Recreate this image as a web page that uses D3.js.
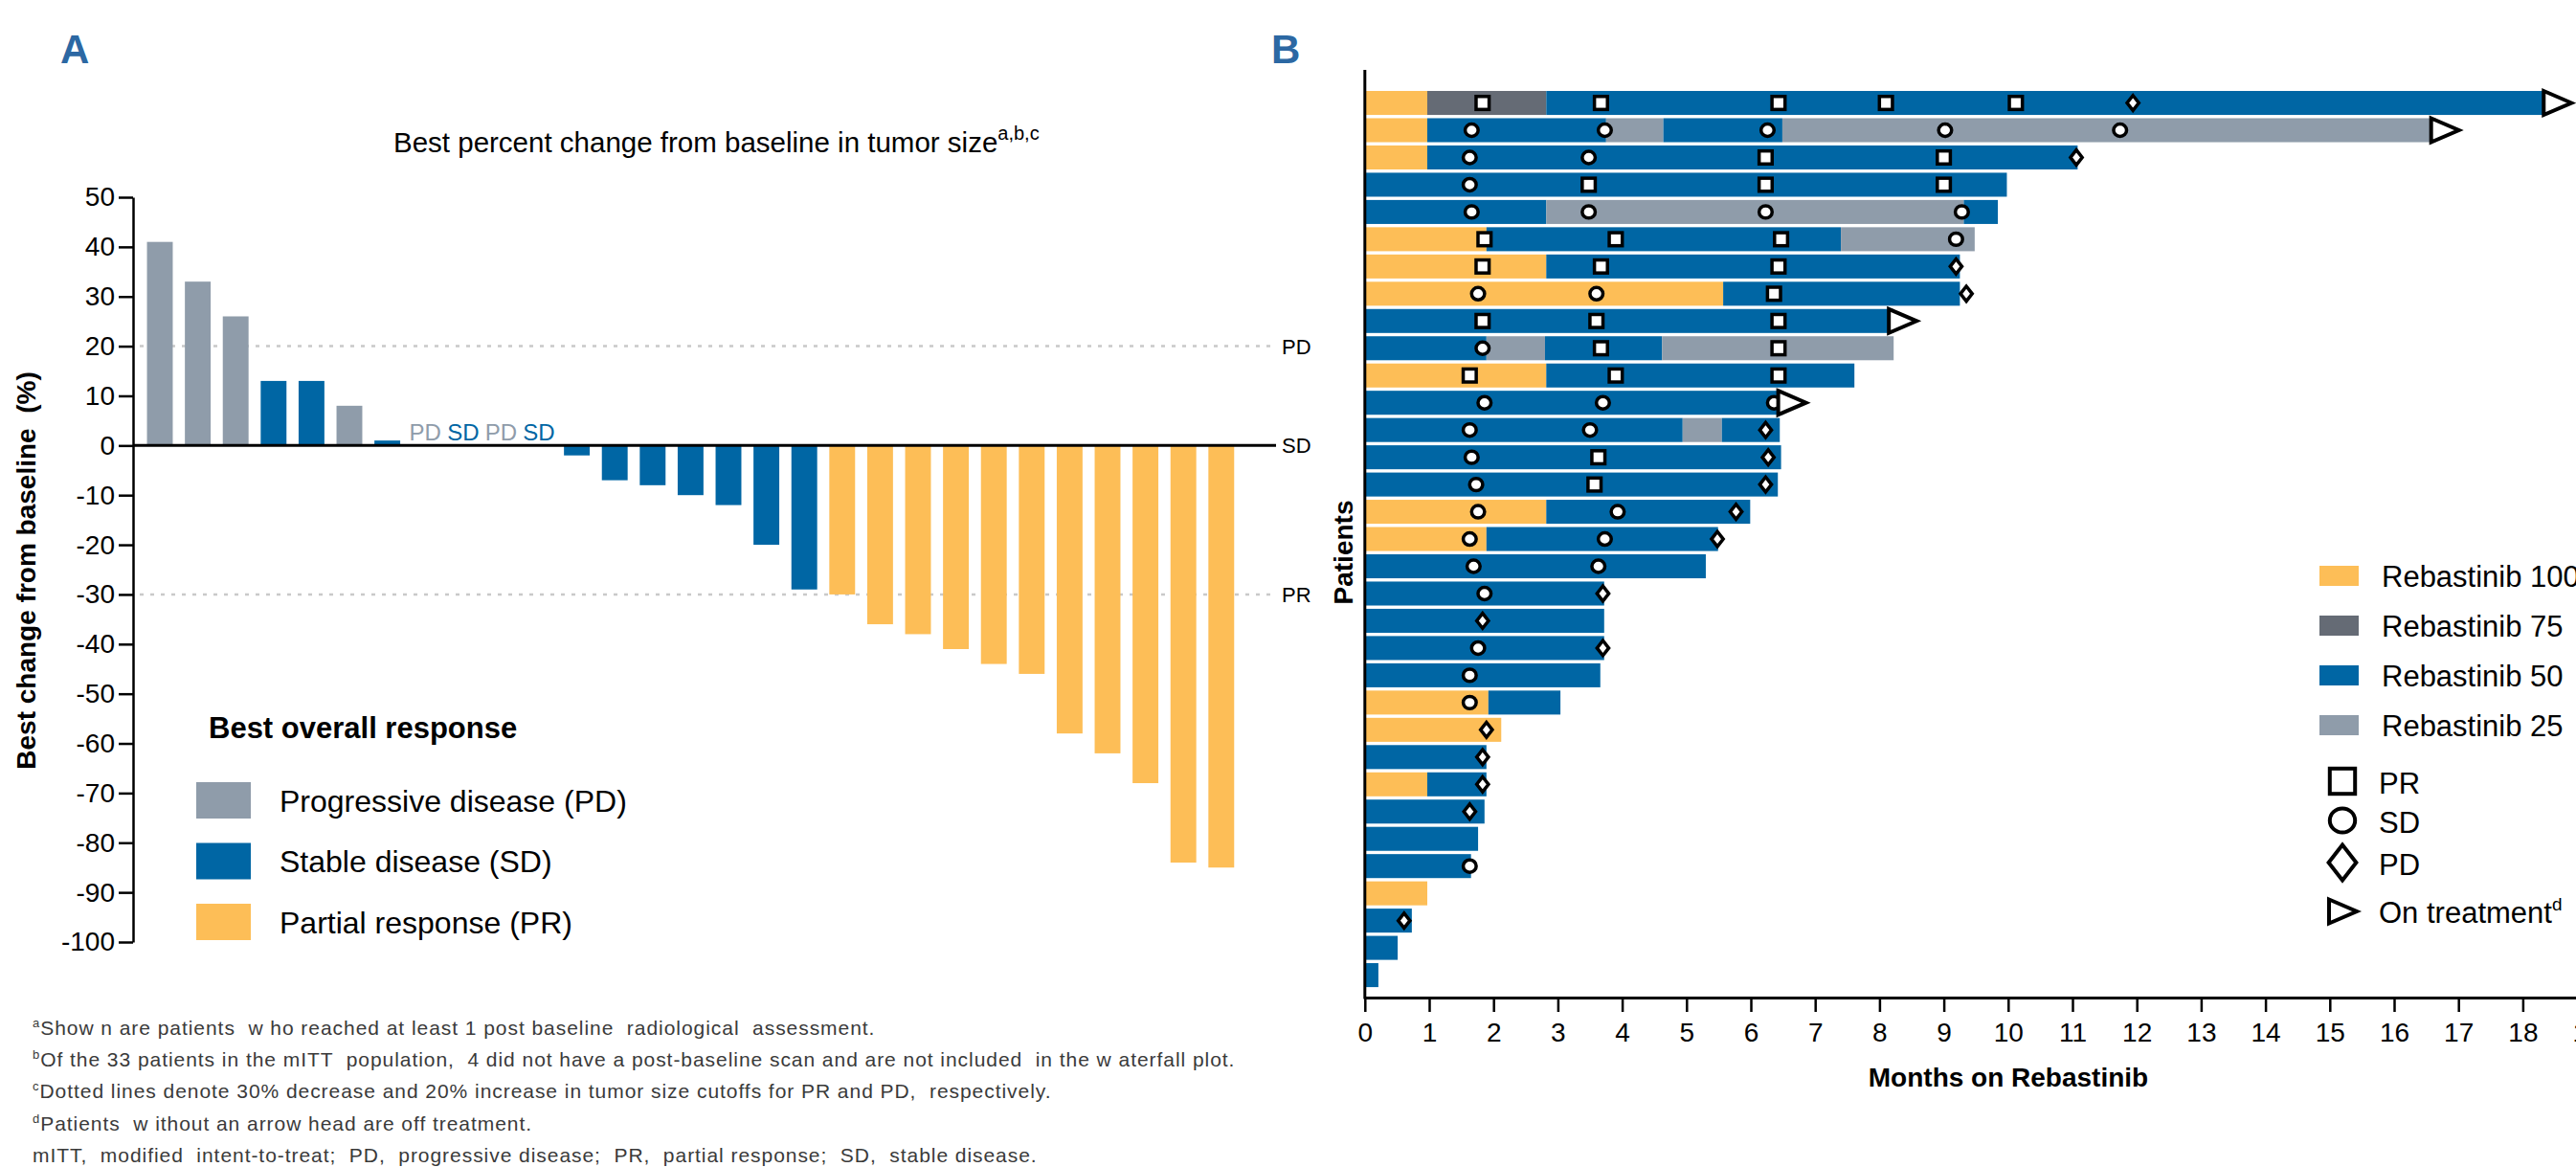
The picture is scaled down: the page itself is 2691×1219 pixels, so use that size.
<!DOCTYPE html>
<html><head><meta charset="utf-8">
<script src="https://cdn.jsdelivr.net/npm/d3@7"></script>
<style>
body{margin:0;background:#fff}
svg{display:block}
text{font-family:"Liberation Sans",Arial,Helvetica,sans-serif}
</style>
</head><body>
<svg id="c" width="2691" height="1219"></svg>
<script>
// ---------------- DATA ----------------
// Panel A: waterfall (29 patients)
const waterfallChange = [41,33,26,13,13,8,1,0,0,0,0,-2,-7,-8,-10,-12,-20,-29,-30,-36,-38,-41,-44,-46,-58,-62,-68,-84,-85];
const waterfallResponse = ["PD","PD","PD","SD","SD","PD","SD","PD","SD","PD","SD","SD","SD","SD","SD","SD","SD","SD","PR","PR","PR","PR","PR","PR","PR","PR","PR","PR","PR"];
const yTicksA = [50,40,30,20,10,0,-10,-20,-30,-40,-50,-60,-70,-80,-90,-100];
const cutoffValues = [20,0,-30];
const cutoffLabels = ["PD","SD","PR"];
const responseCategories = ["PD","SD","PR"];
const responseLegendLabels = ["Progressive disease (PD)","Stable disease (SD)","Partial response (PR)"];

// Panel B: swimmer plot (33 patients); segments [start month, end month, dose mg]
const swimSegments = [
  [[0,0.97,100],[0.97,2.82,75],[2.82,18.40,50]],
  [[0,0.97,100],[0.97,3.75,50],[3.75,4.64,25],[4.64,6.49,50],[6.49,16.65,25]],
  [[0,0.97,100],[0.97,11.08,50]],
  [[0,9.98,50]],
  [[0,2.82,50],[2.82,9.31,25],[9.31,9.84,50]],
  [[0,1.89,100],[1.89,7.40,50],[7.40,9.48,25]],
  [[0,2.82,100],[2.82,9.25,50]],
  [[0,5.57,100],[5.57,9.25,50]],
  [[0,8.22,50]],
  [[0,1.89,50],[1.89,2.80,25],[2.80,4.62,50],[4.62,8.22,25]],
  [[0,2.82,100],[2.82,7.61,50]],
  [[0,6.50,50]],
  [[0,4.94,50],[4.94,5.55,25],[5.55,6.45,50]],
  [[0,6.47,50]],
  [[0,6.42,50]],
  [[0,2.82,100],[2.82,5.99,50]],
  [[0,1.89,100],[1.89,5.49,50]],
  [[0,5.30,50]],
  [[0,3.72,50]],
  [[0,3.72,50]],
  [[0,3.72,50]],
  [[0,3.66,50]],
  [[0,1.92,100],[1.92,3.04,50]],
  [[0,2.12,100]],
  [[0,1.89,50]],
  [[0,0.97,100],[0.97,1.89,50]],
  [[0,1.86,50]],
  [[0,1.76,50]],
  [[0,1.65,50]],
  [[0,0.97,100]],
  [[0,0.73,50]],
  [[0,0.51,50]],
  [[0,0.21,50]]
];
// [patient (1-based), month, response]
const responseMarkers = [
  [1,1.83,"PR"],[1,3.67,"PR"],[1,6.43,"PR"],[1,8.10,"PR"],[1,10.12,"PR"],[1,11.94,"PD"],
  [2,1.66,"SD"],[2,3.73,"SD"],[2,6.26,"SD"],[2,9.02,"SD"],[2,11.74,"SD"],
  [3,1.63,"SD"],[3,3.48,"SD"],[3,6.23,"PR"],[3,9.00,"PR"],[3,11.06,"PD"],
  [4,1.63,"SD"],[4,3.48,"PR"],[4,6.23,"PR"],[4,9.00,"PR"],
  [5,1.66,"SD"],[5,3.48,"SD"],[5,6.23,"SD"],[5,9.28,"SD"],
  [6,1.86,"PR"],[6,3.90,"PR"],[6,6.47,"PR"],[6,9.19,"SD"],
  [7,1.83,"PR"],[7,3.67,"PR"],[7,6.43,"PR"],[7,9.19,"PD"],
  [8,1.76,"SD"],[8,3.60,"SD"],[8,6.36,"PR"],[8,9.35,"PD"],
  [9,1.83,"PR"],[9,3.60,"PR"],[9,6.43,"PR"],
  [10,1.83,"SD"],[10,3.67,"PR"],[10,6.43,"PR"],
  [11,1.63,"PR"],[11,3.90,"PR"],[11,6.43,"PR"],
  [12,1.86,"SD"],[12,3.70,"SD"],[12,6.36,"SD"],
  [13,1.63,"SD"],[13,3.50,"SD"],[13,6.23,"PD"],
  [14,1.66,"SD"],[14,3.63,"PR"],[14,6.27,"PD"],
  [15,1.73,"SD"],[15,3.57,"PR"],[15,6.23,"PD"],
  [16,1.76,"SD"],[16,3.93,"SD"],[16,5.77,"PD"],
  [17,1.63,"SD"],[17,3.73,"SD"],[17,5.48,"PD"],
  [18,1.69,"SD"],[18,3.63,"SD"],
  [19,1.86,"SD"],[19,3.70,"PD"],
  [20,1.83,"PD"],
  [21,1.76,"SD"],[21,3.70,"PD"],
  [22,1.63,"SD"],
  [23,1.63,"SD"],
  [24,1.89,"PD"],
  [25,1.83,"PD"],
  [26,1.83,"PD"],
  [27,1.63,"PD"],
  [29,1.63,"SD"],
  [31,0.61,"PD"]
];
const onTreatment = [1,2,9,12];
const xTicksB = [0,1,2,3,4,5,6,7,8,9,10,11,12,13,14,15,16,17,18,19];
const doseLevels = [100,75,50,25];
const doseLegendLabels = ["Rebastinib 100","Rebastinib 75","Rebastinib 50","Rebastinib 25"];
const markerLegendLabels = ["PR","SD","PD"];

const footnotes = [
  ["a","Show n are patients  w ho reached at least 1 post baseline  radiological  assessment."],
  ["b","Of the 33 patients in the mITT  population,  4 did not have a post-baseline scan and are not included  in the w aterfall plot."],
  ["c","Dotted lines denote 30% decrease and 20% increase in tumor size cutoffs for PR and PD,  respectively."],
  ["d","Patients  w ithout an arrow head are off treatment."],
  ["","mITT,  modified  intent-to-treat;  PD,  progressive disease;  PR,  partial response;  SD,  stable disease."]
];

// ---------------- STYLE ----------------
const respColor = {PD:"#8f9caa", SD:"#0066a4", PR:"#fdbe57"};
const doseColor = {100:"#fdbe57", 75:"#656b75", 50:"#0066a4", 25:"#8f9caa"};
const panelColor = "#2c68a3";

const svg = d3.select("#c");

// Panel labels
svg.append("text").attr("x",63).attr("y",66).attr("font-size",42).attr("font-weight","bold").attr("fill",panelColor).text("A");
svg.append("text").attr("x",1328).attr("y",66).attr("font-size",42).attr("font-weight","bold").attr("fill",panelColor).text("B");

// ---------------- PANEL A ----------------
const xA = d3.scaleBand().domain(d3.range(waterfallChange.length)).range([147.2,1295.6]).paddingInner(0.32).paddingOuter(0.16);
const yA = d3.scaleLinear().domain([-100,50]).range([984,206]);
const gA = svg.append("g");

// title
const tA = gA.append("text").attr("x",411).attr("y",159).attr("font-size",29.5).attr("fill","#000");
tA.append("tspan").text("Best percent change from baseline in tumor size");
tA.append("tspan").attr("font-size",20).attr("dy",-13).text("a,b,c");

// cutoff dotted lines
gA.selectAll("line.cut").data(cutoffValues.filter(v=>v!==0)).join("line")
  .attr("x1",146).attr("x2",1333).attr("y1",d=>yA(d)).attr("y2",d=>yA(d))
  .attr("stroke","#c9c9c9").attr("stroke-width",2.5).attr("stroke-dasharray","4,7");

// bars
gA.selectAll("rect.bar").data(waterfallChange).join("rect")
  .attr("x",(d,i)=>xA(i)).attr("width",xA.bandwidth())
  .attr("y",d=>yA(Math.max(0,d))).attr("height",d=>Math.abs(yA(d)-yA(0)))
  .attr("fill",(d,i)=>respColor[waterfallResponse[i]]);

// zero line
gA.append("line").attr("x1",139).attr("x2",1333).attr("y1",yA(0)).attr("y2",yA(0)).attr("stroke","#000").attr("stroke-width",3);

// labels for zero-change patients
gA.selectAll("text.zero").data(waterfallChange.map((d,i)=>({d,i})).filter(o=>o.d===0)).join("text")
  .attr("x",o=>xA(o.i)+xA.bandwidth()/2).attr("y",yA(0)-5).attr("text-anchor","middle")
  .attr("font-size",24).attr("fill",o=>respColor[waterfallResponse[o.i]]).text(o=>waterfallResponse[o.i]);

// cutoff labels
gA.selectAll("text.cutlab").data(cutoffValues).join("text")
  .attr("x",1339).attr("y",d=>yA(d)).attr("dy","0.36em").attr("font-size",22).attr("fill","#000")
  .text((d,i)=>cutoffLabels[i]);

// axis
const axA = gA.append("g").attr("transform","translate(139,0)")
  .call(d3.axisLeft(yA).tickValues(yTicksA).tickSize(15).tickPadding(4).tickSizeOuter(0).tickFormat(d=>String(d)));
axA.select(".domain").attr("stroke","#000").attr("stroke-width",2.5);
axA.selectAll(".tick line").attr("stroke","#000").attr("stroke-width",2.5);
axA.selectAll(".tick text").attr("font-size",28).attr("fill","#000");
axA.attr("font-family",null);

// y title
gA.append("text").attr("transform","translate(37,596) rotate(-90)").attr("text-anchor","middle")
  .attr("font-size",28).attr("font-weight","bold").style("white-space","pre").text("Best change from baseline  (%)");

// legend A
gA.append("text").attr("x",218).attr("y",771).attr("font-size",31).attr("font-weight","bold").text("Best overall response");
const legA = gA.selectAll("g.legA").data(responseCategories).join("g").attr("transform",(d,i)=>`translate(205,${817+i*63.5})`);
legA.append("rect").attr("width",57).attr("height",38).attr("fill",d=>respColor[d]);
legA.append("text").attr("x",87).attr("y",19).attr("dy","0.36em").attr("font-size",32).text((d,i)=>responseLegendLabels[i]);

// footnotes
const fn = svg.append("g");
footnotes.forEach((f,i)=>{
  const t = fn.append("text").attr("x",34).attr("y",1081+i*33.2).attr("font-size",21).attr("letter-spacing",0.95)
    .attr("fill","#3a3a3a").style("white-space","pre");
  if (f[0]) t.append("tspan").attr("font-size",13).attr("dy",-8).text(f[0]);
  t.append("tspan").attr("dy",f[0]?8:0).text(f[1]);
});

// ---------------- PANEL B ----------------
const xB = d3.scaleLinear().domain([0,19]).range([1425.8,2702.6]);
const yB = d3.scaleBand().domain(d3.range(1,swimSegments.length+1)).range([93.3,1032.8]).paddingInner(0.12).paddingOuter(0.06);
const gB = svg.append("g");

// bars
const segData = [];
swimSegments.forEach((segs,pi)=>segs.forEach(s=>segData.push({p:pi+1,s0:s[0],s1:s[1],dose:s[2]})));
gB.selectAll("rect.seg").data(segData).join("rect")
  .attr("x",d=>xB(d.s0)).attr("width",d=>xB(d.s1)-xB(d.s0))
  .attr("y",d=>yB(d.p)).attr("height",yB.bandwidth())
  .attr("fill",d=>doseColor[d.dose]);

// marker drawing helpers
function drawMarker(g, type, cx, cy, s, sw){
  if (type==="PR") {
    g.append("rect").attr("x",cx-s*0.4).attr("y",cy-s*0.4).attr("width",s*0.8).attr("height",s*0.8)
      .attr("fill","#fff").attr("stroke","#000").attr("stroke-width",sw);
  } else if (type==="SD") {
    g.append("ellipse").attr("cx",cx).attr("cy",cy).attr("rx",s*0.4).attr("ry",s*0.38)
      .attr("fill","#fff").attr("stroke","#000").attr("stroke-width",sw);
  } else {
    const hw = s*0.36, hh = s*0.46;
    g.append("path").attr("d",`M${cx},${cy-hh}L${cx+hw},${cy}L${cx},${cy+hh}L${cx-hw},${cy}Z`)
      .attr("fill","#fff").attr("stroke","#000").attr("stroke-width",sw);
  }
}
const mg = gB.append("g");
responseMarkers.forEach(m=>{
  drawMarker(mg, m[2], xB(m[1]), yB(m[0])+yB.bandwidth()/2, 17, 3.5);
});

// on-treatment arrows
function drawArrow(g, xb, cy, w, h, sw){
  g.append("path").attr("d",`M${xb},${cy-h/2}L${xb+w},${cy}L${xb},${cy+h/2}Z`)
    .attr("fill","#fff").attr("stroke","#000").attr("stroke-width",sw).attr("stroke-linejoin","miter");
}
onTreatment.forEach(p=>{
  const segs = swimSegments[p-1];
  const end = segs[segs.length-1][1];
  drawArrow(mg, xB(end)-5, yB(p)+yB.bandwidth()/2, 29, 25, 4);
});

// axes
const axB = gB.append("g").attr("transform","translate(0,1042)")
  .call(d3.axisBottom(xB).tickValues(xTicksB).tickSize(15).tickPadding(11).tickSizeOuter(0).tickFormat(d=>String(d)));
axB.select(".domain").attr("stroke","#000").attr("stroke-width",3);
axB.selectAll(".tick line").attr("stroke","#000").attr("stroke-width",2.5);
axB.selectAll(".tick text").attr("font-size",28).attr("fill","#000");
axB.attr("font-family",null);
gB.append("line").attr("x1",xB(0)).attr("x2",xB(0)).attr("y1",73).attr("y2",1043.5).attr("stroke","#000").attr("stroke-width",3);

gB.append("text").attr("x",2098).attr("y",1135).attr("text-anchor","middle").attr("font-size",28).attr("font-weight","bold").text("Months on Rebastinib");
gB.append("text").attr("transform","translate(1413,577) rotate(-90)").attr("text-anchor","middle").attr("font-size",28).attr("font-weight","bold").text("Patients");

// legend B
const legB = gB.selectAll("g.legB").data(doseLevels).join("g").attr("transform",(d,i)=>`translate(2423,${591+i*52})`);
legB.append("rect").attr("width",41).attr("height",21).attr("fill",d=>doseColor[d]);
legB.append("text").attr("x",65).attr("y",10.5).attr("dy","0.36em").attr("font-size",31).text((d,i)=>doseLegendLabels[i]);

const symY = [816,857,901];
const lg2 = gB.append("g");
markerLegendLabels.forEach((t,i)=>{
  drawMarker(lg2, t, 2447, symY[i], i===2?40:33, 4);
  lg2.append("text").attr("x",2485).attr("y",symY[i]+2).attr("dy","0.36em").attr("font-size",31).text(t);
});
drawArrow(lg2, 2433, 952, 29, 25, 4);
const ot = lg2.append("text").attr("x",2485).attr("y",953).attr("dy","0.36em").attr("font-size",31);
ot.append("tspan").text("On treatment");
ot.append("tspan").attr("font-size",19).attr("dy",-13).text("d");
</script>
</body></html>
